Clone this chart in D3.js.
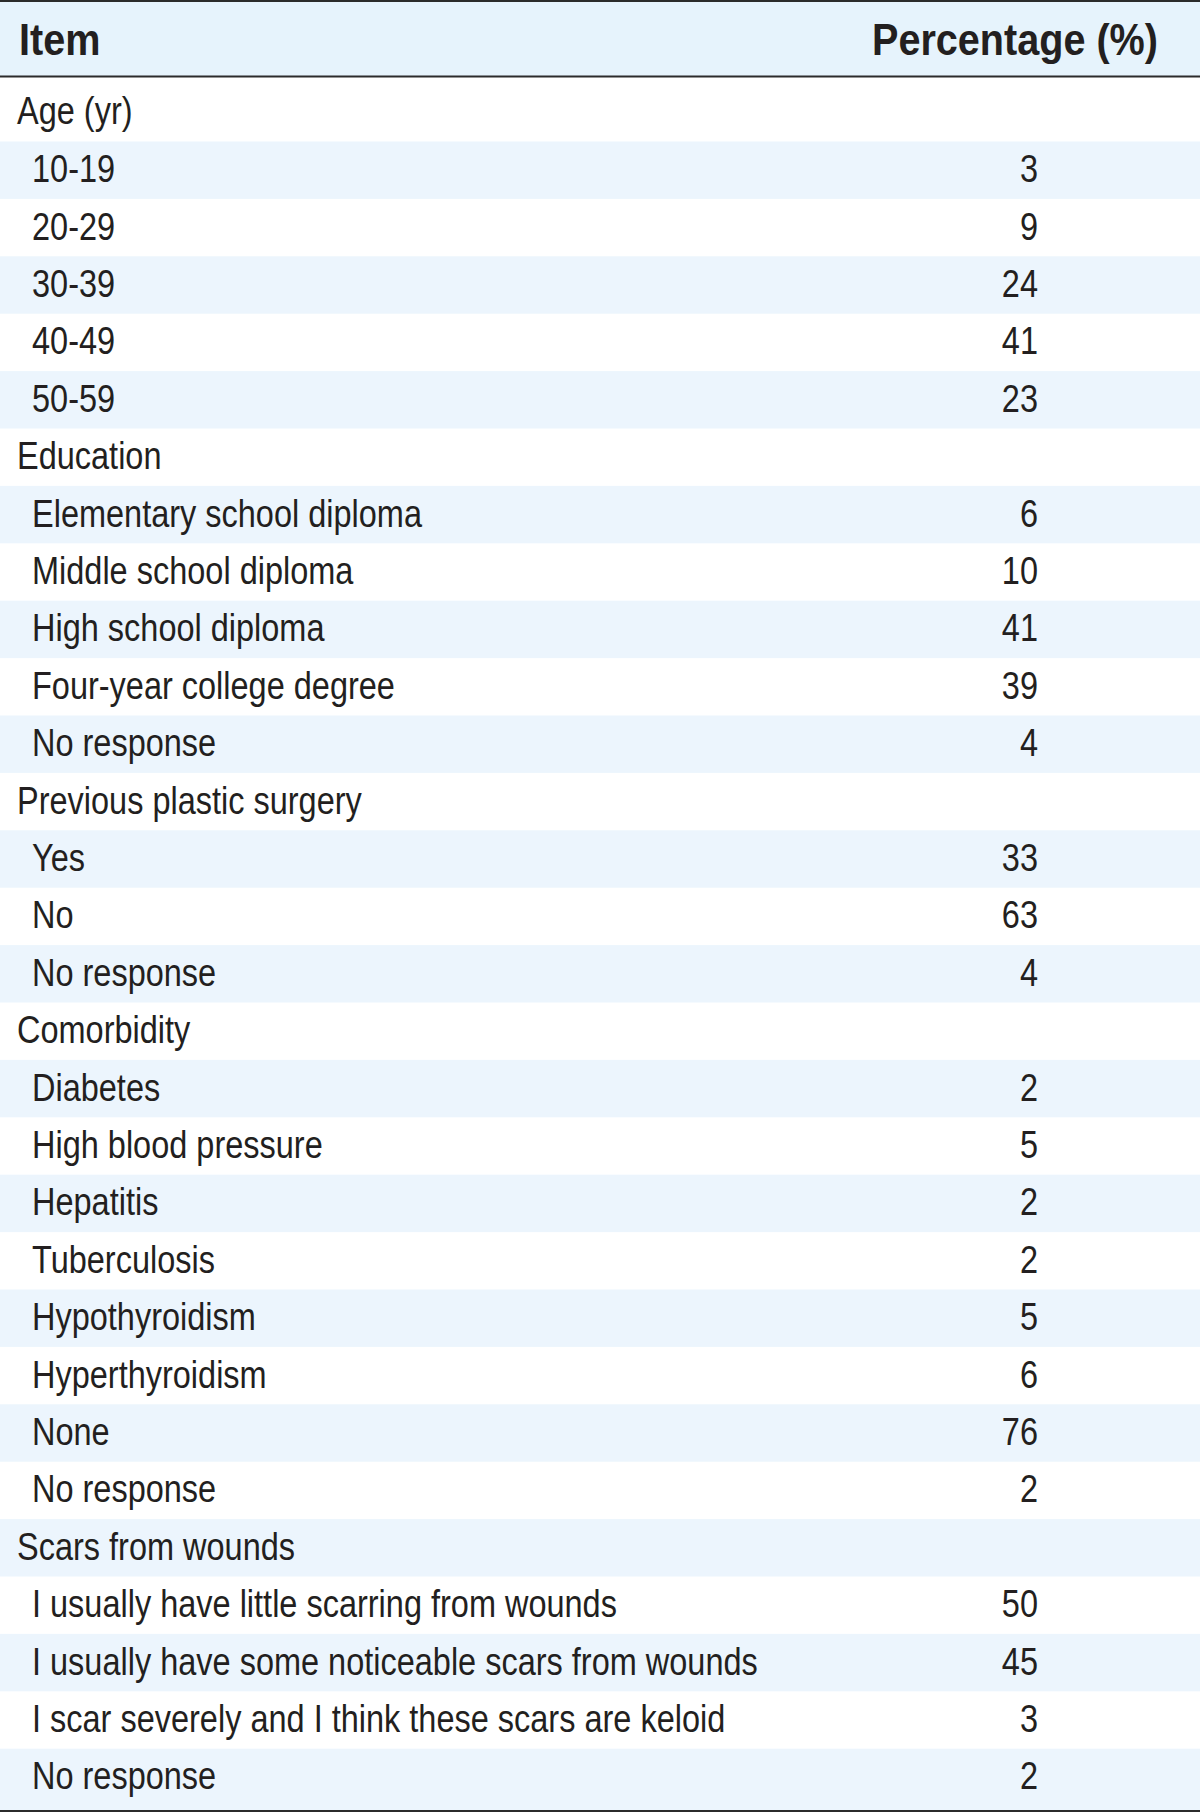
<!DOCTYPE html>
<html>
<head>
<meta charset="utf-8">
<script src="https://cdn.jsdelivr.net/npm/d3@7"></script>
<style>
  html, body { margin: 0; padding: 0; background: #fff; }
  svg { display: block; }
</style>
</head>
<body>
<svg id="chart" width="1200" height="1812"></svg>
<script>
const headers = ["Item", "Percentage (%)"];
const groupNames = ["Age (yr)", "Education", "Previous plastic surgery", "Comorbidity", "Scars from wounds"];
const ageItems = ["10-19", "20-29", "30-39", "40-49", "50-59"];
const ageValues = [3, 9, 24, 41, 23];
const educationItems = ["Elementary school diploma", "Middle school diploma", "High school diploma", "Four-year college degree", "No response"];
const educationValues = [6, 10, 41, 39, 4];
const surgeryItems = ["Yes", "No", "No response"];
const surgeryValues = [33, 63, 4];
const comorbidityItems = ["Diabetes", "High blood pressure", "Hepatitis", "Tuberculosis", "Hypothyroidism", "Hyperthyroidism", "None", "No response"];
const comorbidityValues = [2, 5, 2, 2, 5, 6, 76, 2];
const scarItems = ["I usually have little scarring from wounds", "I usually have some noticeable scars from wounds", "I scar severely and I think these scars are keloid", "No response"];
const scarValues = [50, 45, 3, 2];

const groupItems = [ageItems, educationItems, surgeryItems, comorbidityItems, scarItems];
const groupValues = [ageValues, educationValues, surgeryValues, comorbidityValues, scarValues];

const rows = [];
groupNames.forEach((g, gi) => {
  rows.push({label: g, value: null, group: true});
  groupItems[gi].forEach((it, ii) => rows.push({label: it, value: groupValues[gi][ii], group: false}));
});

const W = 1200;
const svg = d3.select("#chart");
const textColor = "#231f20";
const lineColor = "#2b2b2b";
const headerBg = "#e6f3fc";
const stripeBg = "#ecf5fd";
const font = "'Liberation Sans', Arial, Helvetica, sans-serif";
const bodyScale = 0.855, headScale = 0.9;

const headerTop = 2, headerBottom = 76;
const firstRowTop = 77, firstBodyTop = 141.5, rowH = 57.4;
const tableBottom = 1810;

const yCenter = d3.scaleLinear().domain([1, rows.length - 1])
  .range([firstBodyTop + rowH / 2, firstBodyTop + (rows.length - 1.5) * rowH]);

function rowTop(i) { return i === 0 ? firstRowTop : yCenter(i) - rowH / 2; }
function rowBottom(i) { return i === rows.length - 1 ? tableBottom : (i === 0 ? firstBodyTop : yCenter(i) + rowH / 2); }
function rowTextY(i) { return i === 0 ? 124 : yCenter(i) + 12; }

svg.append("rect").attr("x", 0).attr("y", headerTop).attr("width", W).attr("height", headerBottom - headerTop).attr("fill", headerBg);

svg.selectAll("rect.stripe").data(rows.map((r, i) => ({r, i})).filter(d => d.i % 2 === 1))
  .join("rect").attr("class", "stripe")
  .attr("x", 0).attr("width", W)
  .attr("y", d => rowTop(d.i))
  .attr("height", d => rowBottom(d.i) - rowTop(d.i))
  .attr("fill", stripeBg);

svg.append("line").attr("x1", 0).attr("x2", W).attr("y1", 1).attr("y2", 1).attr("stroke", lineColor).attr("stroke-width", 2);
svg.append("line").attr("x1", 0).attr("x2", W).attr("y1", 76.5).attr("y2", 76.5).attr("stroke", lineColor).attr("stroke-width", 2);
svg.append("line").attr("x1", 0).attr("x2", W).attr("y1", 1811).attr("y2", 1811).attr("stroke", lineColor).attr("stroke-width", 2);

svg.append("text").attr("transform", `translate(19,54.5) scale(${headScale},1)`).text(headers[0])
  .attr("font-family", font).attr("font-weight", "bold").attr("font-size", 44).attr("fill", textColor);
svg.append("text").attr("transform", `translate(1158,54.5) scale(${headScale},1)`).attr("text-anchor", "end").text(headers[1])
  .attr("font-family", font).attr("font-weight", "bold").attr("font-size", 44).attr("fill", textColor);

svg.selectAll("text.label").data(rows.map((r, i) => ({r, i})))
  .join("text").attr("class", "label")
  .attr("transform", d => `translate(${d.r.group ? 17 : 32},${rowTextY(d.i)}) scale(${bodyScale},1)`)
  .attr("font-family", font).attr("font-size", 38).attr("fill", textColor)
  .text(d => d.r.label);

svg.selectAll("text.value").data(rows.map((r, i) => ({r, i})).filter(d => d.r.value !== null))
  .join("text").attr("class", "value")
  .attr("transform", d => `translate(1038,${rowTextY(d.i)}) scale(${bodyScale},1)`)
  .attr("text-anchor", "end")
  .attr("font-family", font).attr("font-size", 38).attr("fill", textColor)
  .text(d => d.r.value);
</script>
</body>
</html>
